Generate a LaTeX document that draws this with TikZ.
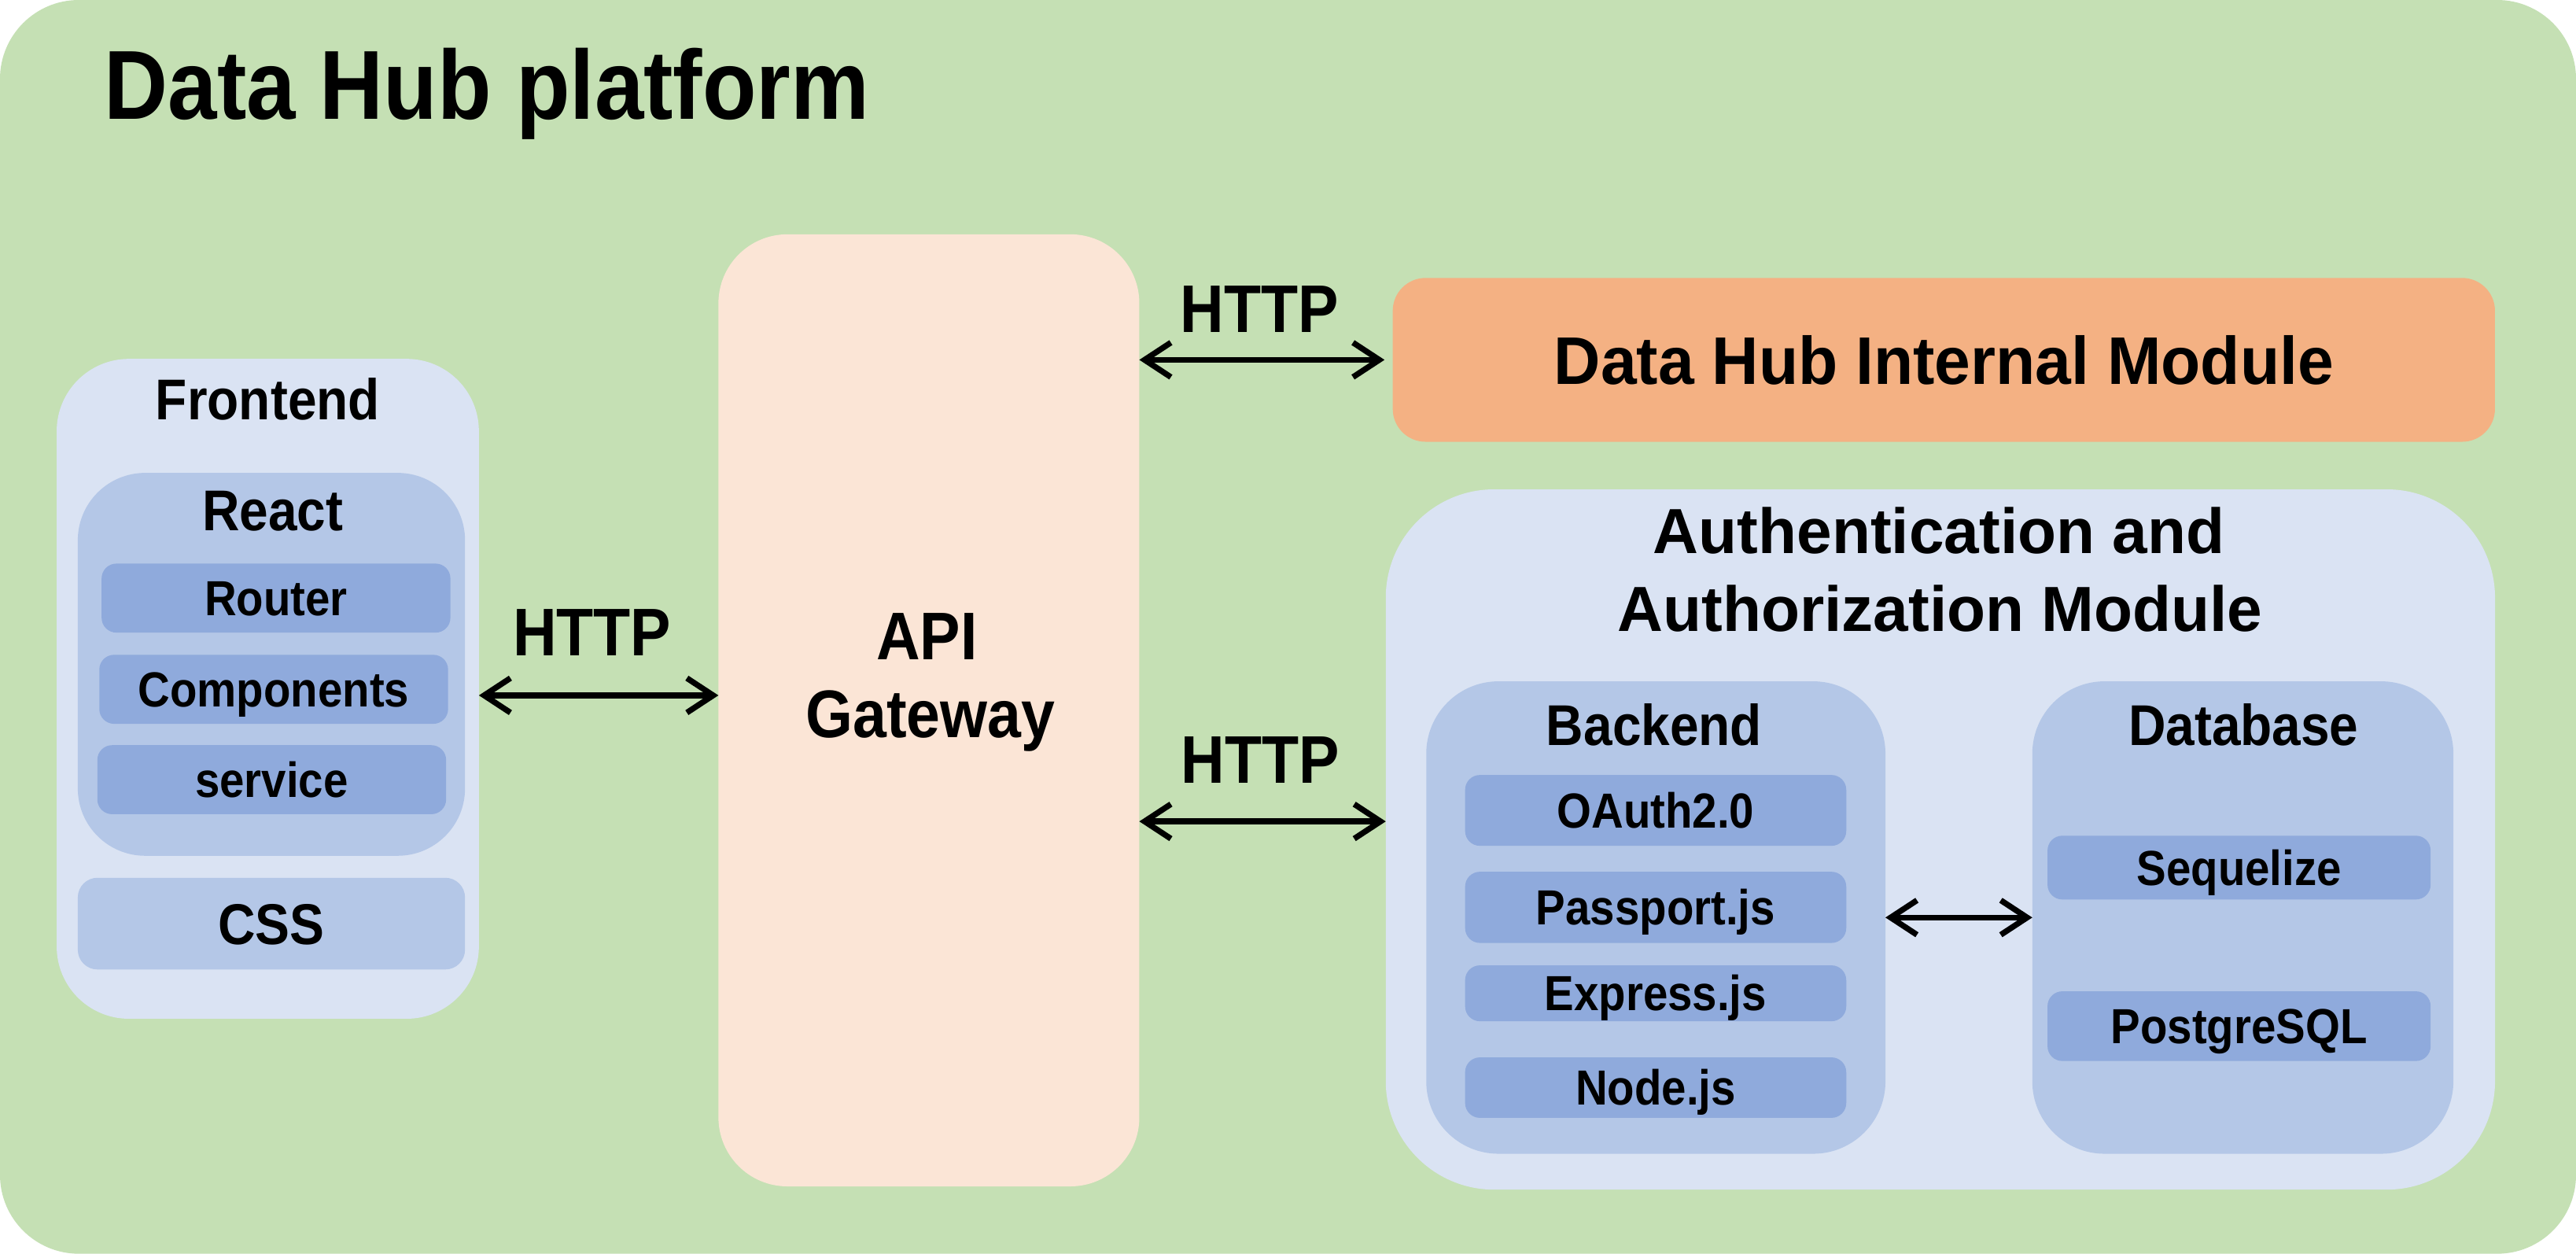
\documentclass[tikz,border=0pt]{standalone}
\usepackage{fontspec}
\setmainfont{Liberation Sans}[FakeStretch=0.9]
\usetikzlibrary{arrows.meta}

\definecolor{verde}{HTML}{C5E0B4}
\definecolor{azulclaro}{HTML}{DAE3F3}
\definecolor{azulmedio}{HTML}{B4C7E7}
\definecolor{azulescuro}{HTML}{8FAADC}
\definecolor{pessego}{HTML}{FBE5D6}
\definecolor{laranja}{HTML}{F4B183}

\tikzset{
  box/.style={rounded corners=#1, inner sep=0pt, outer sep=0pt, text depth=0pt},
  item/.style={box=9pt, fill=azulescuro, t30},
  t60/.style={font=\bfseries\fontsize{59.7}{60}\selectfont, text height=42.6pt},
  t41/.style={font=\bfseries\fontsize{41}{47}\selectfont, text height=29.3pt},
  t41l/.style={t41, font=\bfseries\fontsize{41}{47}\selectfont\addfontfeature{FakeStretch=0.96}},
  t39/.style={font=\bfseries\fontsize{38.8}{47}\selectfont\addfontfeature{FakeStretch=0.99}, text height=27.7pt},
  t35/.style={font=\bfseries\fontsize{35}{40}\selectfont, text height=25pt},
  t30/.style={font=\bfseries\fontsize{30}{36}\selectfont, text height=21.4pt},
  seta/.style={<->, line width=3.5pt}
}

\begin{document}
\begin{tikzpicture}[x=1pt, y=-1pt, >={Straight Barb[length=16pt,width=21pt]}]
    % Fundo
    \fill[white] (0,0) rectangle (1568,763);
    \fill[verde, rounded corners=48pt] (0,0) rectangle (1568,763);
    \useasboundingbox (0,0) rectangle (1568,763);
    \node[t60, anchor=base west] (titulo) at (60,72.7) {Data Hub platform};

    % Frontend
    \node[box=44pt, fill=azulclaro, minimum width=257pt, minimum height=401.6pt] (fe) at (163,419.2) {};
    \node[t35, anchor=base] (fe-t) at (163,255.3) {Frontend};
    \node[box=41pt, fill=azulmedio, minimum width=235.7pt, minimum height=233pt] (react) at (165.2,404.3) {};
    \node[t35, anchor=base] (react-t) at (166,322.9) {React};
    \foreach \nome/\txt/\x/\y in {router/Router/168/364, comp/Components/166.6/419.5, serv/service/165.4/474.5}
        \node[item, minimum width=212.3pt, minimum height=42pt] (\nome) at (\x,\y) {\txt};
    \node[box=12pt, fill=azulmedio, t35, minimum width=235.7pt, minimum height=55.8pt] (css) at (165.2,562.1) {CSS};

    % API Gateway
    \node[box=42pt, fill=pessego, minimum width=256.2pt, minimum height=579.4pt] (api) at (565.4,432.3) {};
    \node[t41, anchor=base] (api-t1) at (564.2,401.4) {API};
    \node[t41, anchor=base] (api-t2) at (566.3,448.8) {Gateway};

    % Modulo interno
    \node[box=20pt, fill=laranja, t41l, minimum width=670.9pt, minimum height=99.7pt] (dhim) at (1183.2,219) {Data Hub Internal Module};

    % Autenticacao e autorizacao
    \node[box=66pt, fill=azulclaro, minimum width=675.2pt, minimum height=426.2pt] (auth) at (1181.1,510.9) {};
    \node[t39, anchor=base] (auth-t1) at (1180.2,336.7) {Authentication and};
    \node[t39, anchor=base] (auth-t2) at (1180.9,384.3) {Authorization Module};

    % Backend
    \node[box=44pt, fill=azulmedio, minimum width=279.5pt, minimum height=287.5pt] (be) at (1007.9,558.4) {};
    \node[t35, anchor=base] (be-t) at (1006.9,453.4) {Backend};
    \foreach \nome/\txt/\y/\h in {oauth/OAuth2.0/493.2/43.1, passport/Passport.js/552.2/43.3, express/Express.js/604.5/34, nodejs/Node.js/661.9/36.8}
        \node[item, minimum width=232pt, minimum height=\h pt] (\nome) at (1007.8,\y) {\txt};

    % Base de dados
    \node[box=44pt, fill=azulmedio, minimum width=256.3pt, minimum height=287.5pt] (db) at (1365.2,558.4) {};
    \node[t35, anchor=base] (db-t) at (1365.6,453.4) {Database};
    \node[item, minimum width=233.2pt, minimum height=38.8pt] (seq) at (1362.9,528) {Sequelize};
    \node[item, minimum width=233.2pt, minimum height=42.4pt] (pg) at (1362.9,624.5) {PostgreSQL};

    % Ligacoes HTTP
    \coordinate (fe-a) at ([yshift=-4pt]fe.east);
    \coordinate (auth-a) at ([yshift=11pt]auth.west);
    \draw[seta] (fe-a) -- (fe-a -| api.west);
    \draw[seta, shorten >=5pt] (dhim.west -| api.east) -- (dhim.west);
    \draw[seta] (auth-a -| api.east) -- (auth-a);
    \draw[seta] (be.east) -- (db.west);
    \node[t41, anchor=base] (http1) at (360.4,399) {HTTP};
    \node[t41, anchor=base] (http2) at (766.5,202.4) {HTTP};
    \node[t41, anchor=base] (http3) at (767,476.7) {HTTP};
\end{tikzpicture}
\end{document}
